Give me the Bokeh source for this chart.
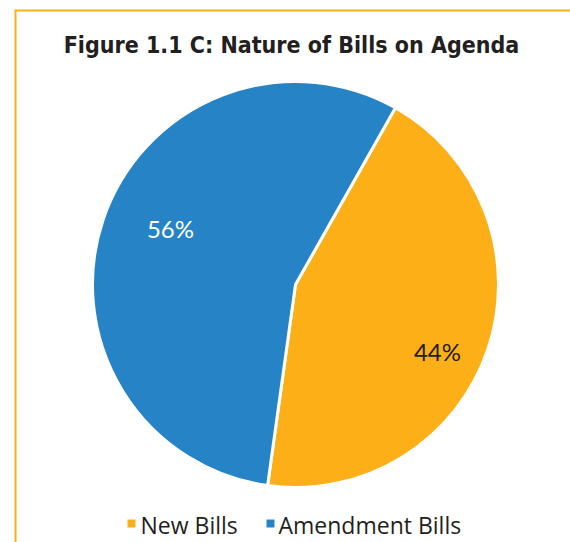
import math
from bokeh.plotting import figure
from bokeh.models import Range1d, ColumnDataSource
from bokeh.core.properties import value
from bokeh.embed import file_html
from bokeh.resources import INLINE

# ---- data ----
categories = ["New Bills", "Amendment Bills"]
shares = [44, 56]
colors = ["#FCAF17", "#2684C6"]
label_colors = ["#231F20", "#FFFFFF"]
title_text = "Figure 1.1 C: Nature of Bills on Agenda"

# ---- layout ----
W, H = 570, 542
CX, CY, R = 295, H - 284, 203
START_DEG = 60.5
LABEL_R = [157, 137]
LABEL_SHIFT_DEG = [-6.6, -5.4]

p = figure(width=W, height=H, output_backend="svg", toolbar_location=None,
           x_range=Range1d(0, W), y_range=Range1d(0, H),
           min_border=0, background_fill_color="white")
p.axis.visible = False
p.grid.visible = False
p.outline_line_color = None

# frame lines (decoration)
p.segment(x0=[14, 15], y0=[H - 10, H - 10], x1=[W, 15], y1=[H - 10, 0],
          line_color="#FCAF17", line_width=2)

total = sum(shares)
starts, ends, lx, ly, texts = [], [], [], [], []
a = math.radians(START_DEG)
for i, s in enumerate(shares):
    span = 2 * math.pi * s / total
    starts.append(a)
    ends.append(a - span)
    mid = a - span / 2 + math.radians(LABEL_SHIFT_DEG[i])
    lx.append(CX + LABEL_R[i] * math.cos(mid))
    ly.append(CY + LABEL_R[i] * math.sin(mid))
    texts.append(f"{s}%")
    a -= span

src = ColumnDataSource(dict(start=starts, end=ends, color=colors, cat=categories,
                            lx=lx, ly=ly, txt=texts, tc=label_colors))
p.wedge(x=CX, y=CY, radius=R, start_angle="start", end_angle="end",
        direction="clock", fill_color="color", line_color="white",
        line_width=3, source=src)
p.text(x="lx", y="ly", text="txt", text_color="tc", source=src,
       text_align="center", text_baseline="middle",
       text_font=value("Lato"), text_font_size="24px", text_font_style="normal")

# title
p.text(x=[291], y=[H - 44], text=[title_text], text_align="center",
       text_baseline="middle", text_font=value("DejaVu Sans Condensed"),
       text_font_size="23px", text_font_style="bold", text_color="#231F20")

# legend
sq_x = [131, 270]
tx_x = [140, 278]
p.scatter(x=sq_x, y=[H - 523, H - 523], marker="square", size=8,
          fill_color=colors, line_color=None)
p.text(x=tx_x, y=[H - 524, H - 524], text=categories, text_align="left",
       text_baseline="middle", text_font=value("Open Sans"),
       text_font_size="23px", text_color="#231F20")

open("out.html", "w").write(file_html(p, INLINE))
